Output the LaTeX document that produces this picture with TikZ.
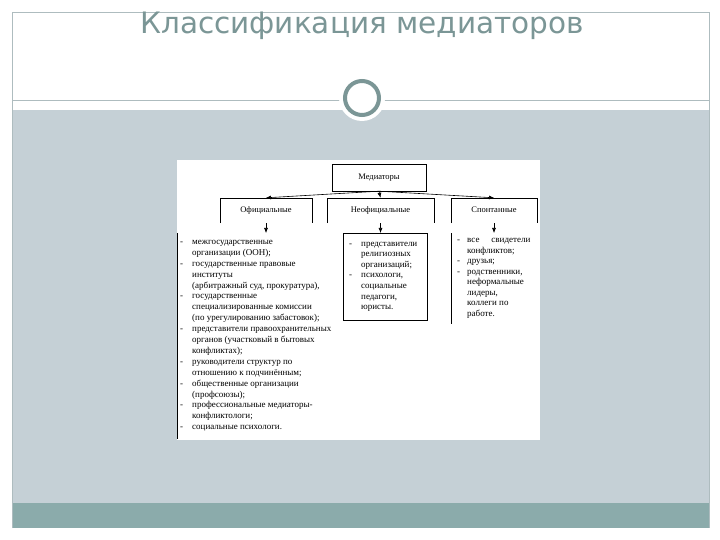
\documentclass[tikz,border=0pt]{standalone}
\usepackage{fontspec}
\setmainfont{Liberation Serif}
\newfontfamily\titlefont{DejaVu Sans}
\usetikzlibrary{positioning,arrows.meta}
\definecolor{slidegray}{HTML}{C5D0D6}
\definecolor{slideteal}{HTML}{8BABAB}
\definecolor{titlecol}{HTML}{7B9696}
\definecolor{framecol}{HTML}{AEBCBF}
\newcommand{\itm}{\makebox[12pt][l]{-}}
\newcommand{\cnt}{\hspace*{12pt}}
\begin{document}
\begin{tikzpicture}[x=1pt,y=-1pt,
box/.style={draw,inner sep=0pt,minimum width=94pt,minimum height=27pt,font=\fontsize{8.5}{10}\selectfont},
cat/.style={inner sep=0pt,minimum height=25pt,text height=6.5pt,text depth=2pt,font=\fontsize{8.5}{10}\selectfont},
list/.style={anchor=north west,align=left,inner xsep=3pt,font=\fontsize{9}{10.9}\selectfont},
arrow/.style={-{Latex[length=5pt,width=4pt]},semithick}]
% slide background
\fill[white](0,0)rectangle(720,540);
\fill[slidegray](12,110)rectangle(709,503);
\fill[slideteal](12,503)rectangle(709,528);
\draw[framecol](12,528)--(12,12)--(709,12)--(709,528);
\draw[framecol](12,100)--(709,100);
\fill[white](362,98)circle(23);
\draw[titlecol,line width=4pt](362,98)circle(17);
\node[font=\titlefont\fontsize{29.5}{31}\selectfont,text=titlecol,anchor=base](title)at(362,34){Классификация медиаторов};
% scanned scheme
\fill[white](177,160)rectangle(540,440);
\node[box](med)at(379,177.5){Медиаторы};
\node[cat,minimum width=92pt](off)at(266,210.5){Официальные};
\node[cat,minimum width=107pt](neo)at(380.5,210.5){Неофициальные};
\node[cat,minimum width=86pt](spo)at(494,210.5){Спонтанные};
\draw(off.south west)|-(off.north east)--(off.south east);
\draw(neo.south west)|-(neo.north east)--(neo.south east);
\draw(spo.south west)|-(spo.north east)--(spo.south east);
\draw[arrow](med.south)--(off.north);\draw[arrow](med.south)--(neo.north);\draw[arrow](med.south)--(spo.north);
% lists
\node[list,inner ysep=7pt](offl)at(177,233){\itm межгосударственные\\\cnt организации (ООН);\\\itm государственные правовые\\\cnt институты\\\cnt (арбитражный суд, прокуратура),\\\itm государственные\\\cnt специализированные комиссии\\\cnt (по урегулированию забастовок);\\\itm представители правоохранительных\\\cnt органов (участковый в бытовых\\\cnt конфликтах);\\\itm руководители структур по\\\cnt отношению к подчинённым;\\\itm общественные организации\\\cnt (профсоюзы);\\\itm профессиональные медиаторы-\\\cnt конфликтологи;\\\itm социальные психологи.};
\node[list,draw,inner xsep=6pt,minimum width=84pt,minimum height=87pt,text width=72pt,font=\fontsize{9}{10.6}\selectfont](neol)at(343,233){\itm представители\\\cnt религиозных\\\cnt организаций;\\\itm психологи,\\\cnt социальные\\\cnt педагоги,\\\cnt юристы.};
\node[list,inner xsep=6pt,inner ysep=5.25pt,font=\fontsize{9}{10.5}\selectfont](spol)at(451,233){\makebox[10pt][l]{-}все\hspace{12pt}свидетели\\\hspace*{10pt}конфликтов;\\\makebox[10pt][l]{-}друзья;\\\makebox[10pt][l]{-}родственники,\\\hspace*{10pt}неформальные\\\hspace*{10pt}лидеры,\\\hspace*{10pt}коллеги по\\\hspace*{10pt}работе.};
\draw(offl.north west)--(offl.south west);\draw(spol.north west)--(spol.south west);
\draw[arrow](off.south)--(off.south|-offl.north);\draw[arrow](neo.south)--(neo.south|-neol.north);\draw[arrow](spo.south)--(spo.south|-spol.north);
\end{tikzpicture}
\end{document}
